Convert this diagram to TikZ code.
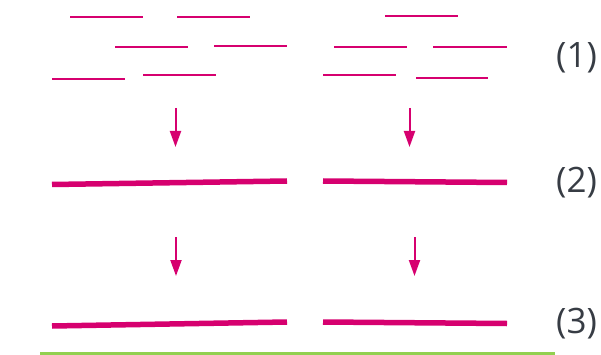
\documentclass[tikz,border=0pt]{standalone}
\usepackage{fontspec}
\setmainfont{Open Sans}
\usetikzlibrary{arrows.meta}
\definecolor{mag}{RGB}{214,0,111}
\definecolor{lbl}{RGB}{55,60,68}
\definecolor{grn}{RGB}{146,208,80}
\tikzset{
  frag/.style={draw=mag,line width=2pt},
  contig/.style={draw=mag,line width=5.5pt},
  stepArrow/.style={draw=mag,line width=2pt,-{Triangle[length=16pt,width=11pt]}},
  lab/.style={text=lbl,font=\fontsize{35}{40}\selectfont,inner sep=0pt,anchor=center},
  base/.style={draw=grn,line width=3.5pt}
}
\begin{document}
\begin{tikzpicture}[x=1pt,y=-1pt]
\useasboundingbox (0,0) rectangle (601,355);
% row 1 fragments (left group)
\draw[frag] (70,16.7) -- (143,16.7);
\draw[frag] (177,16.7) -- (250,16.7);
\draw[frag] (115,47) -- (188,47);
\draw[frag] (214,46) -- (287,46);
\draw[frag] (52,79) -- (125,79);
\draw[frag] (143,75) -- (216,75);
% row 1 fragments (right group)
\draw[frag] (385,16.3) -- (458,16.3);
\draw[frag] (334,47) -- (407,47);
\draw[frag] (433,47) -- (507,47);
\draw[frag] (323,75) -- (396,75);
\draw[frag] (416,78) -- (488,78);
% arrows
\coordinate (a1s) at (175.5,108);
\coordinate (a1e) at (175.5,147);
\coordinate (a2s) at (409.5,108);
\coordinate (a2e) at (409.5,147);
\coordinate (a3s) at (176,237);
\coordinate (a3e) at (176,276);
\coordinate (a4s) at (414.5,237);
\coordinate (a4e) at (414.5,276);
\draw[stepArrow] (a1s) -- (a1e);
\draw[stepArrow] (a2s) -- (a2e);
\draw[stepArrow] (a3s) -- (a3e);
\draw[stepArrow] (a4s) -- (a4e);
% row 2 contigs
\draw[contig] (52,184.5) -- (287,181);
\draw[contig] (323,181) -- (507,182.5);
% row 3
\draw[contig] (52,326) -- (287,322);
\draw[contig] (323,322) -- (507,323.5);
% baseline
\draw[base] (40,353.5) -- (555,353.5);
% labels
\node[lab] (l1) at (576.5,58) {(1)};
\node[lab] (l2) at (576.5,183) {(2)};
\node[lab] (l3) at (576.5,324) {(3)};
\end{tikzpicture}
\end{document}
